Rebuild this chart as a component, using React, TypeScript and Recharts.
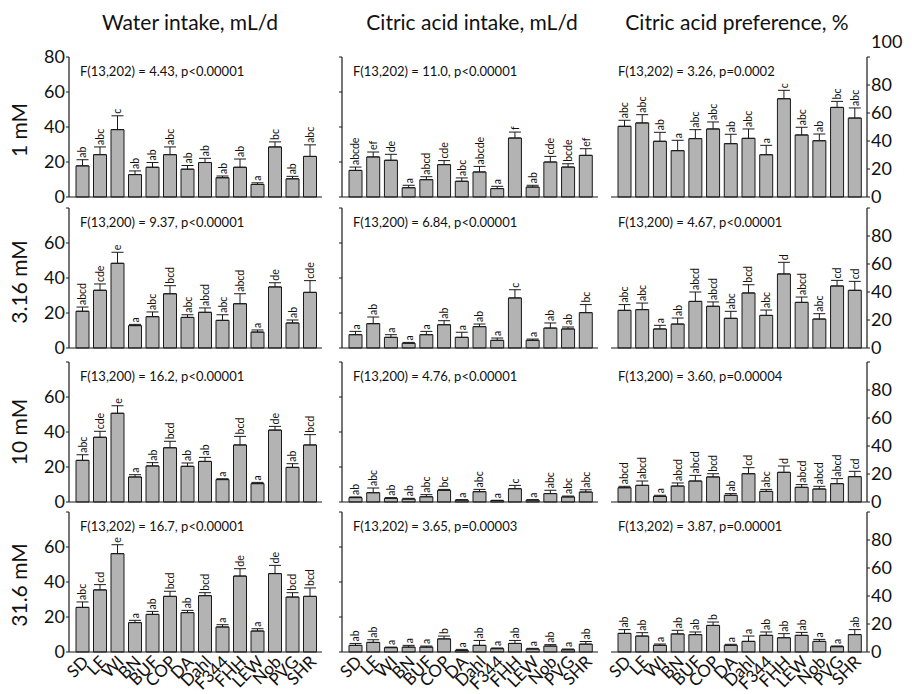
import React from 'react';
import { BarChart, Bar, XAxis, YAxis, ErrorBar, LabelList } from 'recharts';

// ---------------- DATA ----------------
const strains = ['SD', 'LE', 'WI', 'BN', 'BUF', 'COP', 'DA', 'Dahl', 'F344', 'FHH', 'LEW', 'Nob', 'PVG', 'SHR'];
const columnTitles = ['Water intake, mL/d', 'Citric acid intake, mL/d', 'Citric acid preference, %'];
const concentrations = ['1 mM', '3.16 mM', '10 mM', '31.6 mM'];

const intakeTicks = [0, 20, 40, 60, 80];
const preferenceTicks = [0, 20, 40, 60, 80, 100];

// 1 mM
const water1Mean = [17.8, 24.2, 38.5, 12.8, 17.0, 24.2, 15.9, 19.7, 11.0, 17.0, 7.2, 28.6, 10.4, 23.2];
const water1Sem = [3.5, 4.4, 7.9, 2.1, 2.7, 4.4, 2.1, 2.4, 1.0, 4.7, 0.9, 2.9, 1.4, 6.6];
const water1Letters = ['ab', 'abc', 'c', 'ab', 'ab', 'abc', 'ab', 'ab', 'ab', 'ab', 'a', 'bc', 'ab', 'abc'];
const citric1Mean = [15.2, 22.9, 21.0, 5.3, 9.9, 18.5, 9.0, 14.3, 4.8, 33.7, 5.7, 20.0, 17.1, 23.8];
const citric1Sem = [1.9, 2.8, 3.4, 1.4, 1.7, 2.3, 1.9, 3.2, 1.3, 3.4, 1.0, 3.2, 1.9, 3.8];
const citric1Letters = ['abcde', 'ef', 'de', 'a', 'abcd', 'cde', 'abc', 'abcde', 'a', 'f', 'ab', 'cde', 'bcde', 'ef'];
const pref1Mean = [50.5, 52.9, 39.8, 33.1, 41.7, 48.6, 38.1, 41.9, 30.2, 70.2, 44.3, 40.2, 64.0, 56.4];
const pref1Sem = [4.3, 5.9, 6.4, 7.4, 6.4, 5.0, 6.7, 6.7, 6.7, 6.0, 5.5, 4.8, 4.3, 7.2];
const pref1Letters = ['abc', 'abc', 'ab', 'a', 'abc', 'abc', 'ab', 'abc', 'a', 'c', 'abc', 'ab', 'bc', 'abc'];

// 3.16 mM
const water2Mean = [21.0, 33.0, 48.4, 12.8, 17.9, 31.0, 17.5, 20.4, 15.8, 25.3, 9.1, 34.9, 14.3, 31.8];
const water2Sem = [2.4, 3.6, 6.3, 0.7, 2.7, 4.6, 1.5, 2.5, 3.2, 5.7, 1.2, 2.4, 1.7, 6.7];
const water2Letters = ['abcd', 'cde', 'e', 'a', 'abc', 'bcd', 'abc', 'abcd', 'abc', 'abcd', 'a', 'de', 'ab', 'cde'];
const citric2Mean = [7.6, 13.9, 6.1, 2.7, 7.6, 13.3, 6.1, 12.2, 4.4, 28.6, 4.4, 11.4, 10.9, 20.2];
const citric2Sem = [1.9, 3.8, 1.5, 0.5, 1.9, 2.3, 2.9, 1.5, 1.3, 4.7, 0.7, 2.9, 1.1, 4.6];
const citric2Letters = ['a', 'ab', 'a', 'a', 'a', 'ab', 'a', 'ab', 'a', 'c', 'a', 'ab', 'ab', 'bc'];
const pref2Mean = [26.9, 27.4, 13.6, 17.1, 33.3, 29.8, 21.2, 39.3, 23.3, 52.9, 32.6, 20.7, 44.3, 41.2];
const pref2Sem = [4.1, 4.7, 2.6, 4.3, 6.7, 3.1, 5.0, 5.9, 3.8, 8.3, 3.8, 3.8, 4.0, 6.4];
const pref2Letters = ['abc', 'abc', 'a', 'ab', 'abcd', 'abcd', 'abc', 'bcd', 'abc', 'd', 'abcd', 'abc', 'cd', 'cd'];

// 10 mM
const water3Mean = [23.8, 37.0, 50.7, 14.3, 20.6, 31.0, 20.4, 23.2, 12.8, 32.6, 10.5, 41.1, 19.8, 32.6];
const water3Sem = [3.2, 3.4, 4.3, 1.3, 1.9, 3.7, 1.9, 2.3, 0.5, 4.9, 0.7, 2.1, 2.1, 5.9];
const water3Letters = ['abc', 'cde', 'e', 'a', 'ab', 'bcd', 'ab', 'ab', 'a', 'bcd', 'a', 'de', 'ab', 'bcd'];
const citric3Mean = [2.5, 5.3, 2.1, 1.7, 3.0, 6.7, 1.1, 5.9, 0.8, 7.6, 1.1, 4.8, 2.9, 5.7];
const citric3Sem = [0.4, 2.7, 0.4, 0.4, 1.2, 0.5, 0.2, 1.3, 0.2, 1.9, 0.2, 1.9, 0.5, 1.3];
const citric3Letters = ['ab', 'abc', 'ab', 'ab', 'abc', 'bc', 'a', 'abc', 'a', 'c', 'a', 'abc', 'abc', 'abc'];
const pref3Mean = [10.2, 11.9, 4.0, 11.4, 15.0, 17.9, 4.8, 20.2, 7.6, 21.2, 10.5, 9.3, 13.1, 18.1];
const pref3Sem = [1.0, 3.1, 0.8, 2.2, 4.0, 2.3, 1.2, 4.3, 1.4, 4.5, 1.9, 1.9, 3.6, 3.8];
const pref3Letters = ['abcd', 'abcd', 'a', 'abcd', 'abcd', 'bcd', 'ab', 'cd', 'abc', 'd', 'abcd', 'abcd', 'abcd', 'cd'];

// 31.6 mM
const water4Mean = [25.5, 35.5, 56.2, 16.8, 21.5, 31.8, 22.5, 32.2, 14.3, 43.4, 12.0, 44.8, 31.4, 31.8];
const water4Sem = [3.1, 3.0, 5.1, 1.3, 1.7, 2.9, 1.3, 1.7, 1.3, 4.2, 1.3, 4.7, 2.5, 4.8];
const water4Letters = ['abc', 'cd', 'e', 'a', 'ab', 'bcd', 'ab', 'bcd', 'a', 'de', 'a', 'de', 'bcd', 'bcd'];
const citric4Mean = [3.8, 5.5, 2.5, 2.8, 2.8, 7.5, 0.9, 3.8, 1.9, 4.9, 1.7, 3.4, 1.3, 4.5];
const citric4Sem = [1.1, 1.5, 0.3, 1.0, 0.6, 1.6, 0.6, 2.8, 0.4, 1.7, 0.4, 0.8, 0.4, 1.5];
const citric4Letters = ['ab', 'ab', 'a', 'a', 'a', 'b', 'a', 'ab', 'a', 'ab', 'a', 'ab', 'a', 'ab'];
const pref4Mean = [13.3, 11.4, 4.8, 12.9, 12.4, 19.0, 4.8, 7.6, 11.9, 10.2, 11.9, 7.6, 3.8, 12.4];
const pref4Sem = [2.7, 2.4, 0.9, 2.6, 1.9, 2.4, 0.7, 3.8, 2.4, 2.9, 2.1, 1.4, 0.5, 3.6];
const pref4Letters = ['ab', 'ab', 'a', 'ab', 'ab', 'b', 'a', 'a', 'ab', 'ab', 'ab', 'a', 'a', 'ab'];

const waterStats = ['F(13,202) = 4.43, p<0.00001', 'F(13,200) = 9.37, p<0.00001', 'F(13,200) = 16.2, p<0.00001', 'F(13,202) = 16.7, p<0.00001'];
const citricStats = ['F(13,202) = 11.0, p<0.00001', 'F(13,200) = 6.84, p<0.00001', 'F(13,200) = 4.76, p<0.00001', 'F(13,202) = 3.65, p=0.00003'];
const prefStats = ['F(13,202) = 3.26, p=0.0002', 'F(13,200) = 4.67, p<0.00001', 'F(13,200) = 3.60, p=0.00004', 'F(13,202) = 3.87, p=0.00001'];

const panelRows = [
  [[water1Mean, water1Sem, water1Letters], [citric1Mean, citric1Sem, citric1Letters], [pref1Mean, pref1Sem, pref1Letters]],
  [[water2Mean, water2Sem, water2Letters], [citric2Mean, citric2Sem, citric2Letters], [pref2Mean, pref2Sem, pref2Letters]],
  [[water3Mean, water3Sem, water3Letters], [citric3Mean, citric3Sem, citric3Letters], [pref3Mean, pref3Sem, pref3Letters]],
  [[water4Mean, water4Sem, water4Letters], [citric4Mean, citric4Sem, citric4Letters], [pref4Mean, pref4Sem, pref4Letters]],
];
const statRows = [waterStats, citricStats, prefStats];

// ---------------- LAYOUT ----------------
const FONT = 'Lato, "Open Sans", sans-serif';
const INK = '#1a1a1a';
const BAR_FILL = '#b3b3b3';
const PLOT_H = 140;
const ROW_TOPS = [57, 208, 362, 512];
const COLS = [
  { plotLeft: 69, plotWidth: 253, yLeft: 39, yRight: 0, mLeft: 0, max: 80 },
  { plotLeft: 342, plotWidth: 256, yLeft: 10, yRight: 0, mLeft: 0, max: 80 },
  { plotLeft: 611, plotWidth: 256, yLeft: 0, yRight: 45, mLeft: 8, max: 100 },
];
const TITLE_X = [190, 472, 737];
const STAT_X = [80, 353, 618];
const ROW_LABEL_Y = [130, 282, 432, 585];
const M_TOP = 28;
const M_BOTTOM = 12;

const LeftTick = (props: any) => {
  const { x, y, payload, hideTop } = props;
  if (hideTop && payload.value === 80) return <g />;
  return (
    <text x={x} y={y} dy="0.36em" textAnchor="end" fontSize={18} fontFamily={FONT} fill="#111">
      {payload.value}
    </text>
  );
};

const RightTick = (props: any) => {
  const { x, y, payload, firstRow } = props;
  const v = payload.value;
  if (v === 100 && !firstRow) return <g />;
  const shift = v === 100 ? -15 : 0;
  return (
    <text x={x} y={y + shift} dy="0.36em" textAnchor="start" fontSize={18} fontFamily={FONT} fill="#111">
      {v}
    </text>
  );
};

const StrainTick = (props: any) => {
  const { x, y, payload } = props;
  const tx = x + 7;
  const ty = y + 11;
  return (
    <text x={tx} y={ty} textAnchor="end" fontSize={17} fontFamily={FONT} fill="#111" transform={`rotate(-45, ${tx}, ${ty})`}>
      {payload.value}
    </text>
  );
};

const makeLetterLabel = (rows: any[], unitPx: number) => (props: any) => {
  const { x, y, width, index } = props;
  const d = rows[index];
  if (!d) return null;
  const cx = x + width / 2;
  const ty = y - d.sem * unitPx - 2;
  return (
    <text x={cx} y={ty} textAnchor="start" dominantBaseline="central" fontSize={10.5} fontFamily={FONT} fill="#111" transform={`rotate(-90, ${cx}, ${ty})`}>
      {d.letter}
    </text>
  );
};

function Panel({ row, col }: { row: number; col: number }) {
  const [mean, sem, letters] = panelRows[row][col] as [number[], number[], string[]];
  const data = strains.map((name, i) => ({ name, mean: mean[i], sem: sem[i], err: [0, sem[i]], letter: letters[i] }));
  const g = COLS[col];
  const isLast = row === 3;
  const xH = isLast ? 42 : 1;
  const mBottom = isLast ? 0 : M_BOTTOM;
  const width = g.mLeft + g.yLeft + g.plotWidth + g.yRight;
  const height = M_TOP + PLOT_H + xH + mBottom;
  const unitPx = PLOT_H / g.max;
  return (
    <div style={{ position: 'absolute', left: g.plotLeft - g.yLeft - g.mLeft, top: ROW_TOPS[row] - M_TOP }}>
      <BarChart width={width} height={height} data={data} margin={{ top: M_TOP, right: 0, bottom: mBottom, left: g.mLeft }} barSize={13}>
        <XAxis
          dataKey="name"
          height={xH}
          interval={0}
          axisLine={{ stroke: INK, strokeWidth: 1.2 }}
          tickLine={false}
          tickSize={0}
          tickMargin={0}
          tick={isLast ? <StrainTick /> : false}
          padding={{ left: 5, right: 3 }}
        />
        {col === 0 && (
          <YAxis
            domain={[0, 80]}
            ticks={intakeTicks}
            interval={0}
            width={g.yLeft}
            axisLine={{ stroke: INK, strokeWidth: 1.2 }}
            tickLine={{ stroke: INK }}
            tickSize={3}
            tickMargin={1}
            tick={<LeftTick hideTop={row !== 0} />}
          />
        )}
        {col === 1 && (
          <YAxis
            domain={[0, 80]}
            ticks={intakeTicks}
            interval={0}
            width={g.yLeft}
            axisLine={{ stroke: INK, strokeWidth: 1.2 }}
            tickLine={{ stroke: INK }}
            tickSize={3}
            tick={() => <g />}
          />
        )}
        {col === 2 && (
          <YAxis
            orientation="right"
            domain={[0, 100]}
            ticks={preferenceTicks}
            interval={0}
            width={g.yRight}
            axisLine={{ stroke: INK, strokeWidth: 1.2 }}
            tickLine={{ stroke: INK }}
            tickSize={3}
            tickMargin={1}
            tick={<RightTick firstRow={row === 0} />}
          />
        )}
        <Bar dataKey="mean" fill={BAR_FILL} stroke={INK} strokeWidth={1} isAnimationActive={false}>
          <ErrorBar dataKey="err" direction="y" width={6} stroke={INK} strokeWidth={1} isAnimationActive={false} />
          <LabelList dataKey="letter" content={makeLetterLabel(data, unitPx)} />
        </Bar>
      </BarChart>
    </div>
  );
}

export default function App() {
  const panels: any[] = [];
  for (let r = 0; r < 4; r++) for (let c = 0; c < 3; c++) panels.push(<Panel key={`${r}-${c}`} row={r} col={c} />);
  return (
    <div style={{ position: 'absolute', left: 0, top: 0, width: 912, height: 694, background: '#fff', overflow: 'hidden' }}>
      {panels}
      <svg width={912} height={694} style={{ position: 'absolute', left: 0, top: 0, pointerEvents: 'none' }}>
        {columnTitles.map((t, i) => (
          <text key={t} x={TITLE_X[i]} y={21} textAnchor="middle" dominantBaseline="central" fontSize={21} fontFamily={FONT} fill="#111">
            {t}
          </text>
        ))}
        {concentrations.map((t, i) => (
          <text key={t} x={18} y={ROW_LABEL_Y[i]} textAnchor="middle" dominantBaseline="central" fontSize={21} fontFamily={FONT} fill="#111" transform={`rotate(-90, 18, ${ROW_LABEL_Y[i]})`}>
            {t}
          </text>
        ))}
        {statRows.map((col, c) =>
          col.map((t, r) => (
            <text key={`${c}-${r}`} x={STAT_X[c]} y={ROW_TOPS[r] + 14} dominantBaseline="central" fontSize={13} fontFamily={FONT} fill="#111">
              {t}
            </text>
          ))
        )}
      </svg>
    </div>
  );
}
